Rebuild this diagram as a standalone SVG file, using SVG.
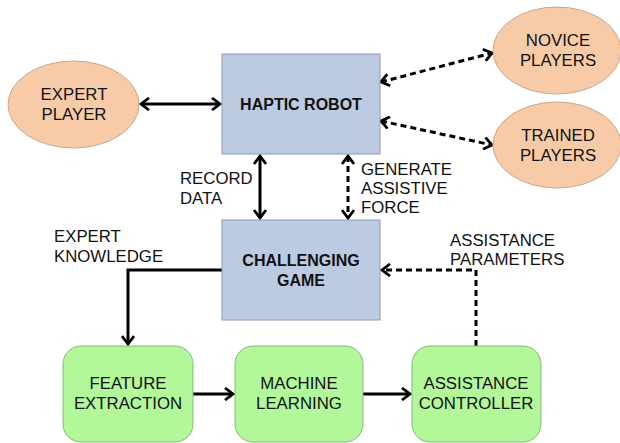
<svg xmlns="http://www.w3.org/2000/svg" width="620" height="443" viewBox="0 0 620 443">
  <style>
    .ell { fill: #f8cba8; stroke: #c8a88e; stroke-width: 1; }
    .blue { fill: #bccbe1; stroke: #8c9cb4; stroke-width: 1; }
    .green { fill: #b3f79b; stroke: #86b878; stroke-width: 1; }
    text { font-family: "Liberation Sans", Arial, sans-serif; font-size: 16.8px; fill: #111; text-anchor: middle; }
    .b { font-weight: bold; font-size: 16px; }
    .lbl { text-anchor: start; }
    .wire { fill: none; stroke: #000; stroke-width: 3; }
    .dash { stroke-dasharray: 6 4; }
  </style>
  <defs>
    <marker id="head" viewBox="0 0 12 14" refX="10" refY="7" markerWidth="12" markerHeight="14" markerUnits="userSpaceOnUse" orient="auto-start-reverse">
      <path d="M2 1 L10 7 L2 13" fill="none" stroke="#000" stroke-width="2.8"/>
    </marker>
  </defs>

  <rect width="620" height="443" fill="#fff"/>

  <g id="connectors">
    <line class="wire" x1="141" y1="104" x2="220" y2="104" marker-start="url(#head)" marker-end="url(#head)"/>
    <line class="wire dash" x1="381" y1="82" x2="492" y2="53" marker-start="url(#head)" marker-end="url(#head)"/>
    <line class="wire dash" x1="381" y1="121" x2="492" y2="145" marker-start="url(#head)" marker-end="url(#head)"/>
    <line class="wire" x1="260" y1="156" x2="260" y2="218" marker-start="url(#head)" marker-end="url(#head)"/>
    <line class="wire dash" x1="348" y1="156" x2="348" y2="218" marker-start="url(#head)" marker-end="url(#head)"/>
    <polyline class="wire" points="222,270 128,270 128,344" marker-end="url(#head)"/>
    <polyline class="wire dash" points="476,346 476,270 382,270" marker-end="url(#head)"/>
    <line class="wire" x1="193" y1="394" x2="233" y2="394" marker-end="url(#head)"/>
    <line class="wire" x1="363" y1="394" x2="410" y2="394" marker-end="url(#head)"/>
  </g>

  <g id="labels">
    <text class="lbl" x="180" y="184">RECORD</text>
    <text class="lbl" x="180" y="204">DATA</text>
    <text class="lbl" x="361" y="175">GENERATE</text>
    <text class="lbl" x="361" y="194">ASSISTIVE</text>
    <text class="lbl" x="361" y="213">FORCE</text>
    <text class="lbl" x="54" y="242">EXPERT</text>
    <text class="lbl" x="54" y="262">KNOWLEDGE</text>
    <text class="lbl" x="450" y="246">ASSISTANCE</text>
    <text class="lbl" x="450" y="265">PARAMETERS</text>
  </g>

  <g id="expert-player">
    <ellipse class="ell" cx="73.5" cy="104.5" rx="65.5" ry="43.5"/>
    <text x="74" y="100">EXPERT</text>
    <text x="74" y="120">PLAYER</text>
  </g>

  <g id="haptic-robot">
    <rect class="blue" x="222" y="54" width="158" height="100"/>
    <text class="b" x="301" y="110">HAPTIC ROBOT</text>
  </g>

  <g id="novice-players">
    <ellipse class="ell" cx="557" cy="50.5" rx="64" ry="43.5"/>
    <text x="558" y="46">NOVICE</text>
    <text x="558" y="66">PLAYERS</text>
  </g>

  <g id="trained-players">
    <ellipse class="ell" cx="557" cy="145" rx="64" ry="43"/>
    <text x="558" y="141">TRAINED</text>
    <text x="558" y="161">PLAYERS</text>
  </g>

  <g id="challenging-game">
    <rect class="blue" x="222" y="220" width="158" height="100"/>
    <text class="b" x="301" y="266">CHALLENGING</text>
    <text class="b" x="301" y="286">GAME</text>
  </g>

  <g id="feature-extraction">
    <rect class="green" x="63" y="346" width="130" height="96" rx="18"/>
    <text x="128" y="389">FEATURE</text>
    <text x="128" y="409">EXTRACTION</text>
  </g>

  <g id="machine-learning">
    <rect class="green" x="235" y="346" width="128" height="96" rx="18"/>
    <text x="299" y="389">MACHINE</text>
    <text x="299" y="409">LEARNING</text>
  </g>

  <g id="assistance-controller">
    <rect class="green" x="412" y="346" width="129" height="96" rx="18"/>
    <text x="476" y="389">ASSISTANCE</text>
    <text x="476" y="409">CONTROLLER</text>
  </g>
</svg>
